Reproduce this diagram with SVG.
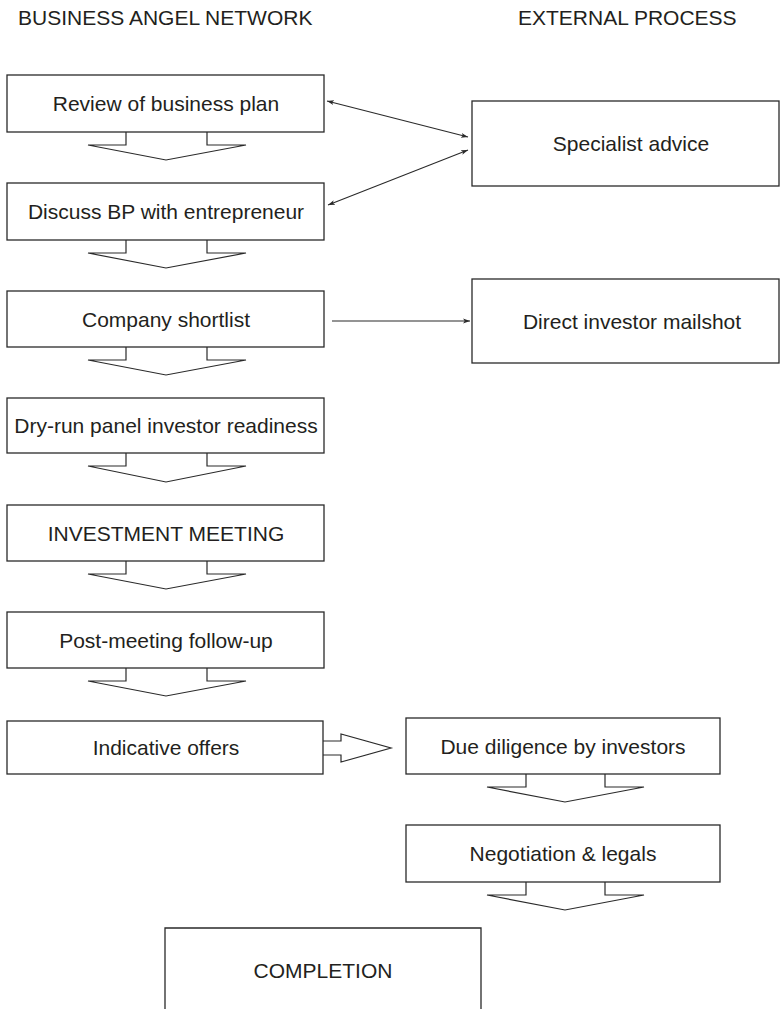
<svg xmlns="http://www.w3.org/2000/svg" width="780" height="1009" viewBox="0 0 780 1009">
  <defs>
    <style>
      .box { fill: #ffffff; stroke: #2a2a2a; stroke-width: 1.3; }
      .flow { fill: none; stroke: #2a2a2a; stroke-width: 1.2; stroke-linejoin: miter; }
      .link { fill: none; stroke: #2a2a2a; stroke-width: 1.1; }
      .label { font-family: "Liberation Sans", Arial, sans-serif; font-size: 21px; fill: #231f20; text-anchor: middle; }
      .head { font-family: "Liberation Sans", Arial, sans-serif; font-size: 21px; fill: #231f20; }
    </style>
    <marker id="tip" viewBox="0 0 10 10" refX="10" refY="5" markerWidth="7" markerHeight="7" markerUnits="userSpaceOnUse" orient="auto-start-reverse">
      <path d="M0,1.5 L10,5 L0,8.5 L2.5,5 Z" fill="#2a2a2a"/>
    </marker>
  </defs>
  <rect width="780" height="1009" fill="#ffffff"/>

  <!-- column headings -->
  <text class="head" x="18" y="25">BUSINESS ANGEL NETWORK</text>
  <text class="head" x="518" y="25">EXTERNAL PROCESS</text>

  <!-- left column: network stages -->
  <g id="review">
    <rect class="box" x="7" y="75" width="317" height="57"/>
    <text class="label" x="166" y="111">Review of business plan</text>
  </g>
  <g id="discuss">
    <rect class="box" x="7" y="183" width="317" height="57"/>
    <text class="label" x="166" y="219">Discuss BP with entrepreneur</text>
  </g>
  <g id="shortlist">
    <rect class="box" x="7" y="291" width="317" height="56"/>
    <text class="label" x="166" y="326.5">Company shortlist</text>
  </g>
  <g id="dryrun">
    <rect class="box" x="7" y="398" width="317" height="55"/>
    <text class="label" x="166" y="433">Dry-run panel investor readiness</text>
  </g>
  <g id="meeting">
    <rect class="box" x="7" y="505" width="317" height="56"/>
    <text class="label" x="166" y="540.5">INVESTMENT MEETING</text>
  </g>
  <g id="followup">
    <rect class="box" x="7" y="612" width="317" height="56"/>
    <text class="label" x="166" y="647.5">Post-meeting follow-up</text>
  </g>
  <g id="offers">
    <rect class="box" x="7" y="721" width="316" height="53"/>
    <text class="label" x="166" y="755">Indicative offers</text>
  </g>

  <!-- right column: external process -->
  <g id="specialist">
    <rect class="box" x="472" y="101" width="307" height="85"/>
    <text class="label" x="631" y="151">Specialist advice</text>
  </g>
  <g id="mailshot">
    <rect class="box" x="472" y="279" width="307" height="84"/>
    <text class="label" x="632" y="328.5">Direct investor mailshot</text>
  </g>
  <g id="diligence">
    <rect class="box" x="406" y="718" width="314" height="56"/>
    <text class="label" x="563" y="753.5">Due diligence by investors</text>
  </g>
  <g id="negotiation">
    <rect class="box" x="406" y="825" width="314" height="57"/>
    <text class="label" x="563" y="861">Negotiation &amp; legals</text>
  </g>
  <g id="completion">
    <path class="box" d="M165,1012 V928 H481 V1012"/>
    <text class="label" x="323" y="978">COMPLETION</text>
  </g>

  <!-- connectors: block arrows between stages and thin links to external steps -->
  <g id="connectors">
    <path class="flow" d="M126,132 V145 H88 L166,160 L246,145 H207 V132"/>
    <path class="flow" d="M126,240 V253 H88 L166,268 L246,253 H207 V240"/>
    <path class="flow" d="M126,347 V360 H88 L166,375 L246,360 H207 V347"/>
    <path class="flow" d="M126,453 V466 H88 L166,482 L246,466 H207 V453"/>
    <path class="flow" d="M126,561 V574 H88 L166,589 L246,574 H207 V561"/>
    <path class="flow" d="M126,668 V681 H88 L166,696 L246,681 H207 V668"/>
    <path class="flow" d="M323,741 H341 V734 L391,748 L341,762 V755 H323"/>
    <path class="flow" d="M526,774 V787 H487 L565,802 L644,787 H605 V774"/>
    <path class="flow" d="M526,882 V895 H487 L565,910 L644,895 H605 V882"/>

    <line class="link" x1="327" y1="101" x2="468" y2="137" marker-start="url(#tip)" marker-end="url(#tip)"/>
    <line class="link" x1="328" y1="205" x2="468" y2="150" marker-start="url(#tip)" marker-end="url(#tip)"/>
    <line class="link" x1="332" y1="321" x2="470" y2="321" marker-end="url(#tip)"/>
  </g>
</svg>
